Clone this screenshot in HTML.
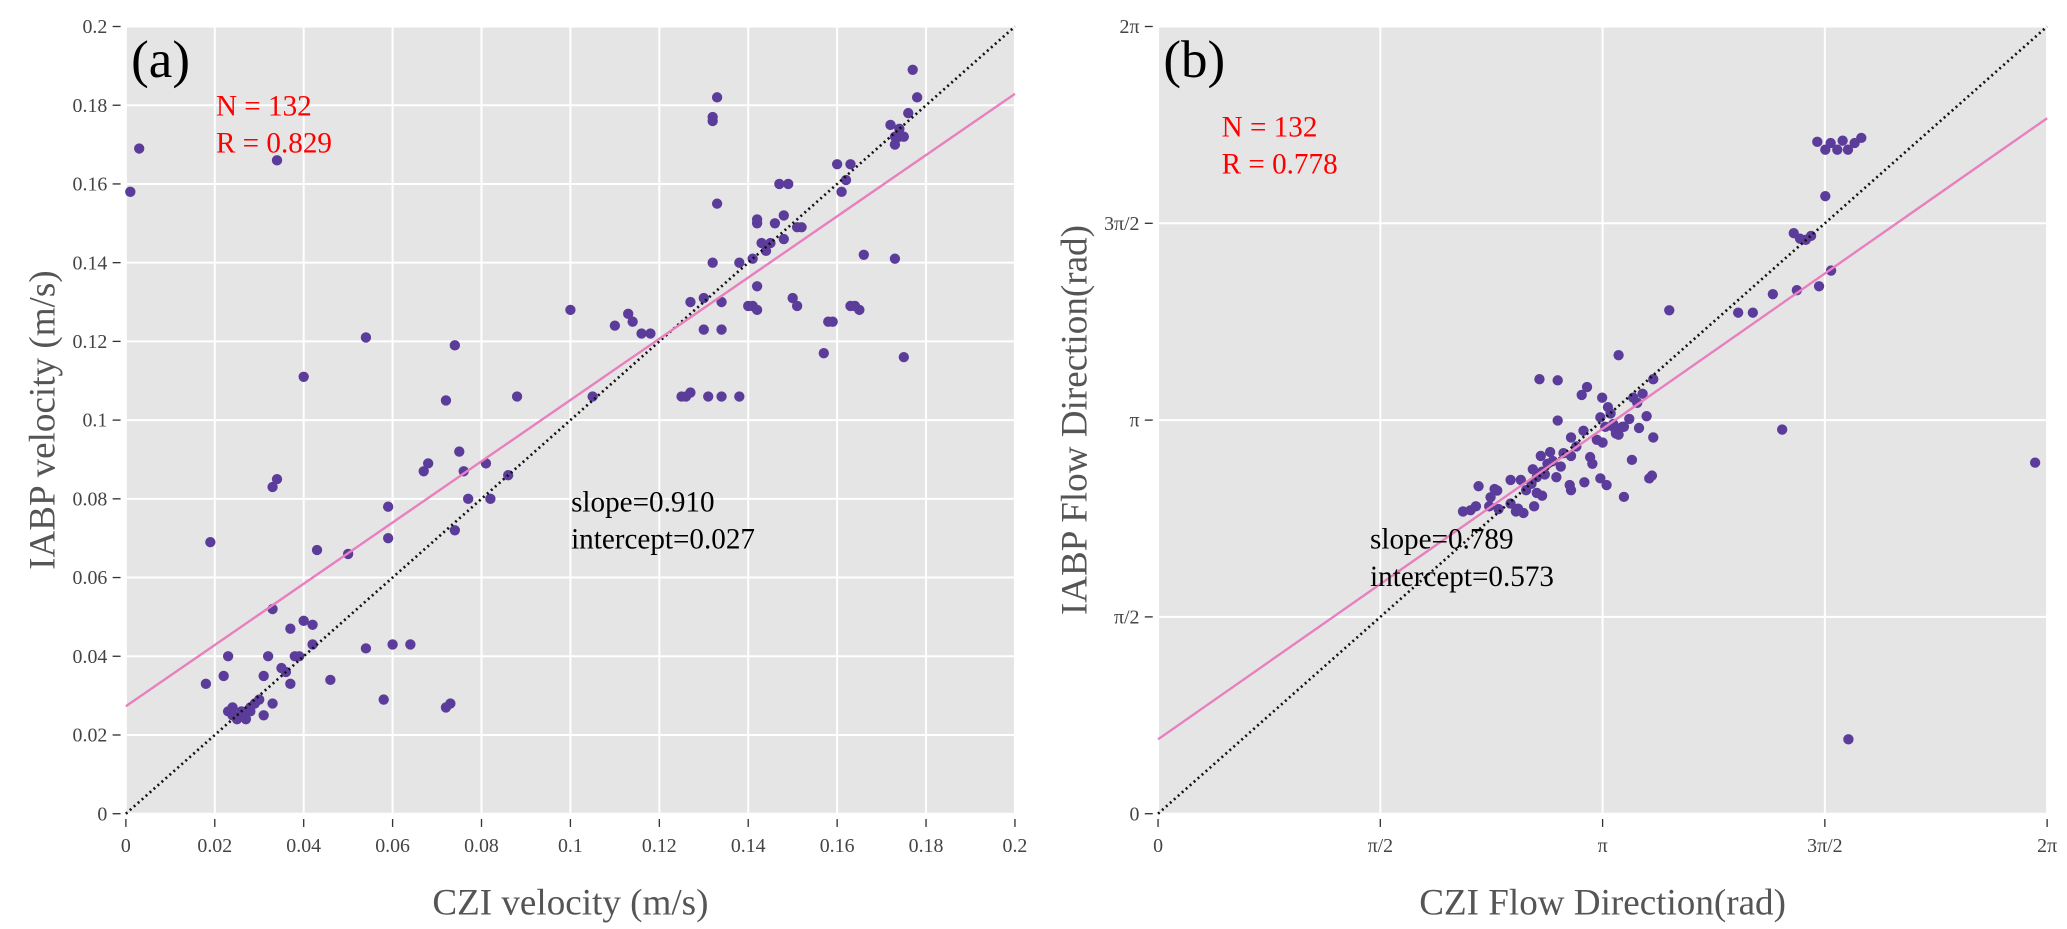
<!DOCTYPE html>
<html><head><meta charset="utf-8">
<style>
html,body{margin:0;padding:0;background:#fff;}
svg{display:block;font-family:"Liberation Serif",serif;}
</style></head>
<body>
<svg id="fig" width="2067" height="929" viewBox="0 0 1560 701" preserveAspectRatio="none" xmlns="http://www.w3.org/2000/svg">
<g id="pa"></g>
<g id="pb"></g>
</svg>
<script>
// Panel (a) data: CZI velocity (x) vs IABP velocity (y), m/s
const velX = [0.001,0.003,0.034,0.019,0.018,0.022,0.023,0.023,0.024,0.025,0.026,0.027,0.028,0.029,0.030,0.031,0.031,0.032,0.033,0.033,0.034,0.033,0.035,0.036,0.037,0.037,0.038,0.039,0.040,0.040,0.042,0.042,0.043,0.046,0.050,0.054,0.054,0.058,0.059,0.059,0.060,0.064,0.067,0.068,0.072,0.072,0.073,0.074,0.074,0.075,0.076,0.077,0.081,0.082,0.086,0.088,0.100,0.105,0.110,0.113,0.114,0.116,0.118,0.125,0.126,0.127,0.127,0.130,0.130,0.131,0.132,0.132,0.133,0.133,0.132,0.134,0.134,0.134,0.138,0.138,0.140,0.141,0.142,0.141,0.142,0.142,0.142,0.143,0.144,0.145,0.146,0.147,0.148,0.148,0.149,0.150,0.151,0.151,0.152,0.157,0.158,0.159,0.160,0.161,0.162,0.163,0.163,0.164,0.165,0.166,0.172,0.173,0.173,0.174,0.174,0.175,0.175,0.176,0.177,0.178,0.173,0.024,0.026,0.028];
const velY = [0.158,0.169,0.166,0.069,0.033,0.035,0.040,0.026,0.025,0.024,0.026,0.024,0.026,0.028,0.029,0.025,0.035,0.040,0.028,0.083,0.085,0.052,0.037,0.036,0.033,0.047,0.040,0.040,0.049,0.111,0.048,0.043,0.067,0.034,0.066,0.121,0.042,0.029,0.078,0.070,0.043,0.043,0.087,0.089,0.105,0.027,0.028,0.072,0.119,0.092,0.087,0.080,0.089,0.080,0.086,0.106,0.128,0.106,0.124,0.127,0.125,0.122,0.122,0.106,0.106,0.107,0.130,0.131,0.123,0.106,0.176,0.177,0.182,0.155,0.140,0.130,0.123,0.106,0.106,0.140,0.129,0.129,0.128,0.141,0.134,0.151,0.150,0.145,0.143,0.145,0.150,0.160,0.152,0.146,0.160,0.131,0.129,0.149,0.149,0.117,0.125,0.125,0.165,0.158,0.161,0.165,0.129,0.129,0.128,0.142,0.175,0.170,0.141,0.172,0.174,0.172,0.116,0.178,0.189,0.182,0.172,0.027,0.025,0.027];
const velTicks = [0,0.02,0.04,0.06,0.08,0.1,0.12,0.14,0.16,0.18,0.2];
const velTickLabels = ["0","0.02","0.04","0.06","0.08","0.1","0.12","0.14","0.16","0.18","0.2"];
const fitA = [0.778, 0.0273]; // drawn line slope, intercept

// Panel (b) data: flow direction, in units of pi
const dirX = [1.553,1.973,1.404,1.487,1.437,1.514,1.483,1.501,1.513,1.528,1.540,1.552,1.567,1.582,1.501,1.444,1.457,1.469,1.430,1.383,1.338,1.305,1.150,1.114,1.114,1.111,1.105,1.066,1.048,1.036,1.030,1.012,1.024,1.006,0.995,1.048,1.060,1.078,1.069,1.090,1.082,1.099,0.965,0.953,0.899,0.858,0.899,0.929,0.941,0.957,0.912,0.888,0.876,0.864,0.852,0.840,0.828,0.793,0.793,0.805,0.766,0.745,0.715,0.703,0.686,0.822,0.810,0.846,0.870,0.861,0.882,0.906,0.929,0.977,0.995,1.009,0.959,0.929,0.972,0.987,1.024,1.018,1.045,1.036,0.999,1.000,0.852,0.843,0.816,0.763,0.748,0.926,0.896,0.864,0.757,0.721];
const dirY = [0.189,0.892,0.976,1.340,1.330,1.380,1.707,1.687,1.704,1.687,1.710,1.687,1.704,1.717,1.569,1.461,1.458,1.468,1.475,1.320,1.273,1.273,1.279,1.104,0.956,0.859,0.852,0.899,0.805,1.165,0.966,1.033,0.990,0.983,1.007,0.983,1.003,1.044,1.057,1.067,0.980,1.010,1.084,1.064,1.101,1.104,0.999,0.956,0.933,0.973,0.916,0.896,0.889,0.869,0.855,0.838,0.822,0.848,0.788,0.768,0.774,0.781,0.781,0.771,0.768,0.764,0.775,0.781,0.862,0.909,0.919,0.882,0.909,0.889,0.852,0.835,0.842,0.822,0.906,0.950,0.983,1.017,0.983,0.963,1.057,0.943,0.815,0.875,0.848,0.821,0.804,0.835,0.855,0.808,0.825,0.832];
const dirTicks = [0,0.5,1,1.5,2];
const dirTickLabels = ["0","\u03c0/2","\u03c0","3\u03c0/2","2\u03c0"];
const fitB = [0.789, 0.189]; // slope, intercept (pi units)

const NS = "http://www.w3.org/2000/svg";
function mk(parent, tag, attrs, text){
  const e = document.createElementNS(NS, tag);
  for (const k in attrs) e.setAttribute(k, attrs[k]);
  if (text !== undefined) e.textContent = text;
  parent.appendChild(e);
  return e;
}

function panel(g, cfg){
  const L = cfg.L, R = cfg.R, T = 20, B = 614;
  const sx = v => L + (v - cfg.min) / (cfg.max - cfg.min) * (R - L);
  const sy = v => B - (v - cfg.min) / (cfg.max - cfg.min) * (B - T);
  const bg = mk(g, 'rect', {x:L, y:T, width:R-L, height:B-T, fill:'#e5e5e5'});
  
  
  cfg.ticks.forEach((t, i) => {
    const gx = mk(g, 'line', {x1:sx(t), x2:sx(t), y1:T, y2:B, stroke:'#fff', 'stroke-width':1.5});
    
    
    const gy = mk(g, 'line', {x1:L, x2:R, y1:sy(t), y2:sy(t), stroke:'#fff', 'stroke-width':1.5});
    
    
    const tx = mk(g, 'line', {x1:sx(t), x2:sx(t), y1:B+4, y2:B+10, stroke:'#333', 'stroke-width':1});
    
    
    const ty = mk(g, 'line', {x1:L-10, x2:L-4, y1:sy(t), y2:sy(t), stroke:'#333', 'stroke-width':1});
    
    
    const lx = mk(g, 'text', {x:sx(t), y:B+29, 'text-anchor':'middle', 'font-size':15, fill:'#444'}, cfg.labels[i]);
    
    
    const ly = mk(g, 'text', {x:L-14, y:sy(t)+5, 'text-anchor':'end', 'font-size':15, fill:'#444'}, cfg.labels[i]);
    
    
  });
  cfg.xs.forEach((v, i) => {
    const c = mk(g, 'circle', {cx:sx(v), cy:sy(cfg.ys[i]), r:3.9, fill:'#5b3c9a'});
    
    
  });
  const d = mk(g, 'line', {x1:sx(cfg.min), y1:sy(cfg.min), x2:sx(cfg.max), y2:sy(cfg.max), stroke:'#111', 'stroke-width':2, 'stroke-dasharray':'1.5 2.5'});
  
  
  const f = cfg.fit;
  const p = mk(g, 'line', {x1:sx(cfg.min), y1:sy(f[1]+f[0]*cfg.min), x2:sx(cfg.max), y2:sy(f[1]+f[0]*cfg.max), stroke:'#e87fbf', 'stroke-width':1.8});
  
  
  const pl = mk(g, 'text', {x:L+4, y:58, 'font-size':40, fill:'#000'}, cfg.tag);
  
  
  const n = mk(g, 'text', {x:cfg.nx, y:cfg.ny, 'font-size':22, fill:'#f00'}, cfg.n);
  
  
  const r = mk(g, 'text', {x:cfg.nx, y:cfg.ny+28, 'font-size':22, fill:'#f00'}, cfg.r);
  
  
  const s = mk(g, 'text', {x:cfg.sx, y:cfg.sy, 'font-size':22, fill:'#000'}, cfg.slope);
  
  
  const ic = mk(g, 'text', {x:cfg.sx, y:cfg.sy+28, 'font-size':22, fill:'#000'}, cfg.icpt);
  
  
  const xt = mk(g, 'text', {x:(L+R)/2, y:690, 'text-anchor':'middle', 'font-size':28, fill:'#555'}, cfg.xtitle);
  
  
  const yx = cfg.ytx, yy = (T+B)/2;
  const yt = mk(g, 'text', {x:yx, y:yy, 'text-anchor':'middle', 'font-size':28, fill:'#555', transform:'rotate(-90 '+yx+' '+yy+')'}, cfg.ytitle);
  
  
}

panel(document.getElementById('pa'), {L:95, R:766, min:0, max:0.2, ticks:velTicks, labels:velTickLabels, xs:velX, ys:velY, fit:fitA,
  tag:'(a)', n:'N = 132', r:'R = 0.829', nx:163, ny:87, slope:'slope=0.910', icpt:'intercept=0.027', sx:431, sy:386,
  xtitle:'CZI velocity (m/s)', ytitle:'IABP velocity (m/s)', ytx:41});
panel(document.getElementById('pb'), {L:874, R:1545, min:0, max:2, ticks:dirTicks, labels:dirTickLabels, xs:dirX, ys:dirY, fit:fitB,
  tag:'(b)', n:'N = 132', r:'R = 0.778', nx:922, ny:103, slope:'slope=0.789', icpt:'intercept=0.573', sx:1034, sy:414,
  xtitle:'CZI Flow Direction(rad)', ytitle:'IABP Flow Direction(rad)', ytx:820});
</script>
</body></html>
